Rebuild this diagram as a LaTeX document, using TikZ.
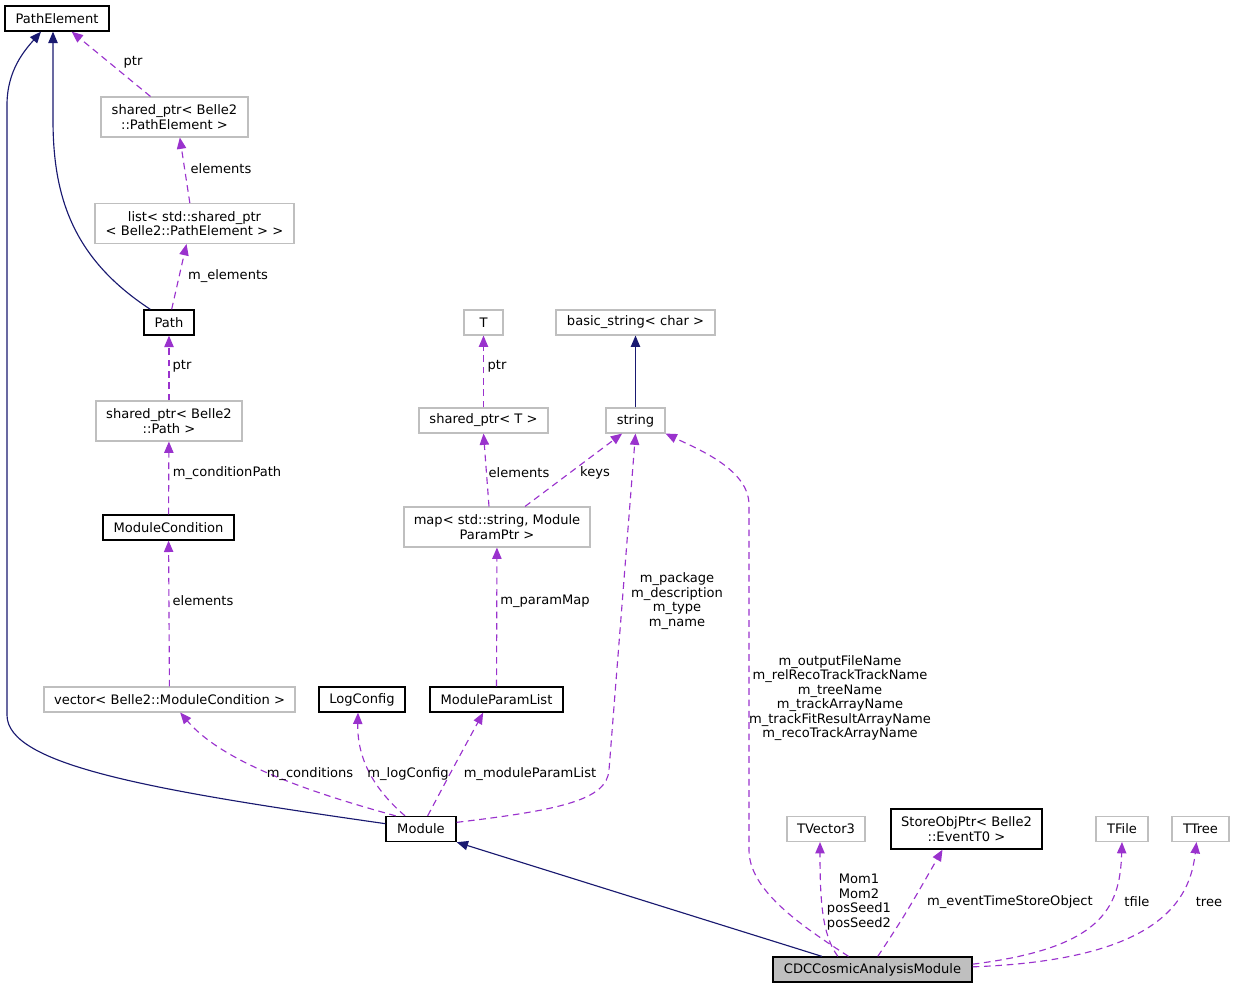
\documentclass[tikz,border=0pt]{standalone}
\usepackage{fontspec}
\setmainfont{DejaVu Sans}
\usepackage{xcolor}
\usetikzlibrary{arrows.meta}

\definecolor{edgeblue}{HTML}{191970}
\definecolor{edgepurple}{HTML}{9A32CD}
\definecolor{boxgray}{HTML}{BFBFBF}

\tikzset{
  docbox/.style = {draw=black, line width=1pt, fill=white, align=center, minimum height=18.75pt},
  undocbox/.style = {draw=boxgray, line width=0.8pt, fill=white, align=center, minimum height=18.75pt},
  tallbox/.style = {minimum height=30pt},
  boxw/.style = {minimum width=#1*0.75pt},
  inherit/.style = {draw=edgeblue, line width=0.85pt, -{Triangle[length=8.5pt,width=7pt]}},
  usage/.style = {draw=edgepurple, line width=0.85pt, dash pattern=on 5pt off 3.5pt, -{Triangle[length=8.5pt,width=7pt]}},
  elabel/.style = {align=center}
}

\begin{document}
\begin{tikzpicture}[x=0.75pt, y=-0.75pt, inner sep=0pt,
  font=\fontsize{9.8}{10.9}\selectfont]
  \useasboundingbox (0,0) rectangle (1236,989);

  % classes, left column
  \node[docbox, boxw=104] (pathelem) at (57,18.5) {PathElement};
  \node[undocbox, tallbox, boxw=147] (spPathElem) at (174.5,117) {shared\_ptr< Belle2\\::PathElement >};
  \node[undocbox, tallbox, boxw=199] (listPE) at (194.5,223.5) {list< std::shared\_ptr\\< Belle2::PathElement > >};
  \node[docbox, boxw=50] (path) at (169,322.5) {Path};
  \node[undocbox, tallbox, boxw=146] (spPath) at (169,421) {shared\_ptr< Belle2\\::Path >};
  \node[docbox, boxw=131] (modcond) at (168.5,527.5) {ModuleCondition};
  \node[undocbox, boxw=251] (vecModCond) at (169.5,699.5) {vector< Belle2::ModuleCondition >};
  \node[docbox, boxw=86] (logcfg) at (362,699.5) {LogConfig};
  \node[docbox, boxw=133] (modparamlist) at (496.5,699.5) {ModuleParamList};
  \node[docbox, boxw=70] (module) at (421,829) {Module};

  % classes, middle
  \node[undocbox, boxw=39] (tT) at (483.5,322.5) {T};
  \node[undocbox, boxw=159] (basicstr) at (635.5,322.5) {basic\_string< char >};
  \node[undocbox, boxw=129] (spT) at (483.5,420.5) {shared\_ptr< T >};
  \node[undocbox, boxw=59] (str) at (635.5,420.5) {string};
  \node[undocbox, tallbox, boxw=186] (paramMap) at (497,527) {map< std::string, Module\\ParamPtr >};

  % classes, bottom right
  \node[undocbox, boxw=78] (tvec) at (826,829) {TVector3};
  \node[docbox, tallbox, boxw=151] (storeobj) at (966.5,829) {StoreObjPtr< Belle2\\::EventT0 >};
  \node[undocbox, boxw=52] (tfile) at (1122,829) {TFile};
  \node[undocbox, boxw=57] (ttree) at (1200.5,829) {TTree};
  \node[docbox, fill=boxgray, boxw=199] (cdc) at (872.5,969.5) {CDCCosmicAnalysisModule};

  % inheritance
  \draw[inherit] ([yshift=4pt]module.west) .. controls (150,790) and (7,765) .. (7,715)
    -- (7,105) .. controls (7,70) and (25,50) .. ([xshift=-12pt]pathelem.south);
  \draw[inherit] ([xshift=-14pt]path.north) .. controls (75,260) and (53,200) .. (53,120)
    -- ([xshift=-3pt]pathelem.south);
  \draw[inherit] (str) -- (basicstr);
  \draw[inherit] ([xshift=-38pt]cdc.north) -- (module.south east);

  % usage
  \draw[usage] ([xshift=-18pt]spPathElem.north) -- ([xshift=11pt]pathelem.south);
  \draw[usage] ([xshift=-3.5pt]listPE.north) -- ([xshift=4pt]spPathElem.south);
  \draw[usage] ([xshift=2pt]path.north) -- ([xshift=-6pt]listPE.south);
  \draw[usage] (spPath) -- (path);
  \draw[usage] (modcond) -- (spPath);
  \draw[usage] (vecModCond) -- (modcond);
  \draw[usage] ([xshift=-19pt]module.north) .. controls (320,795) and (225,765) .. ([xshift=8pt]vecModCond.south);
  \draw[usage] ([xshift=-12pt]module.north) .. controls (375,790) and (357,760) .. ([xshift=-3pt]logcfg.south);
  \draw[usage] ([xshift=5pt]module.north) .. controls (452,770) .. ([xshift=-10pt]modparamlist.south);
  \draw[usage] ([yshift=5pt]module.east) .. controls (560,810) and (607,800) .. (609,770) -- (str.south);
  \draw[usage] ([xshift=-6pt]paramMap.north) -- (spT.south);
  \draw[usage] ([xshift=21pt]paramMap.north) -- ([xshift=-10pt]str.south);
  \draw[usage] (spT) -- (tT);
  \draw[usage] (modparamlist) -- (paramMap);
  \draw[usage] ([xshift=-18pt]cdc.north) .. controls (800,925) and (749,890) .. (749,850)
    -- (749,505) .. controls (749,470) and (700,450) .. (str.south east);
  \draw[usage] ([xshift=-26pt]cdc.north) .. controls (822,935) and (820,900) .. ([xshift=-4.5pt]tvec.south);
  \draw[usage] ([xshift=4pt]cdc.north) .. controls (905,915) .. ([xshift=-18pt]storeobj.south);
  \draw[usage] ([yshift=4pt]cdc.east) .. controls (1100,948) and (1120,910) .. (tfile.south);
  \draw[usage] ([yshift=2pt]cdc.east) .. controls (1160,960) and (1190,900) .. ([xshift=-3pt]ttree.south);

  % edge labels
  \node[elabel] (lblPtrPE) at (133,62) {ptr};
  \node[elabel] (lblElemPE) at (221,169) {elements};
  \node[elabel] (lblMElem) at (228,276) {m\_elements};
  \node[elabel] (lblPtrPath) at (182,366) {ptr};
  \node[elabel] (lblCondPath) at (227,473) {m\_conditionPath};
  \node[elabel] (lblElemCond) at (203,601) {elements};
  \node[elabel] (lblCond) at (310,774) {m\_conditions};
  \node[elabel] (lblLog) at (408,774) {m\_logConfig};
  \node[elabel] (lblParamList) at (530,774) {m\_moduleParamList};
  \node[elabel] (lblModStr) at (677,601) {m\_package\\m\_description\\m\_type\\m\_name};
  \node[elabel] (lblPtrT) at (497,366) {ptr};
  \node[elabel] (lblElemMap) at (519,473) {elements};
  \node[elabel] (lblKeys) at (595,473) {keys};
  \node[elabel] (lblParamMap) at (545,601) {m\_paramMap};
  \node[elabel] (lblCdcStr) at (840,698) {m\_outputFileName\\m\_relRecoTrackTrackName\\m\_treeName\\m\_trackArrayName\\m\_trackFitResultArrayName\\m\_recoTrackArrayName};
  \node[elabel] (lblVec) at (859,902) {Mom1\\Mom2\\posSeed1\\posSeed2};
  \node[elabel] (lblEvt) at (1010,902) {m\_eventTimeStoreObject};
  \node[elabel] (lblFile) at (1137,902) {tfile};
  \node[elabel] (lblTree) at (1209,902) {tree};
\end{tikzpicture}
\end{document}
